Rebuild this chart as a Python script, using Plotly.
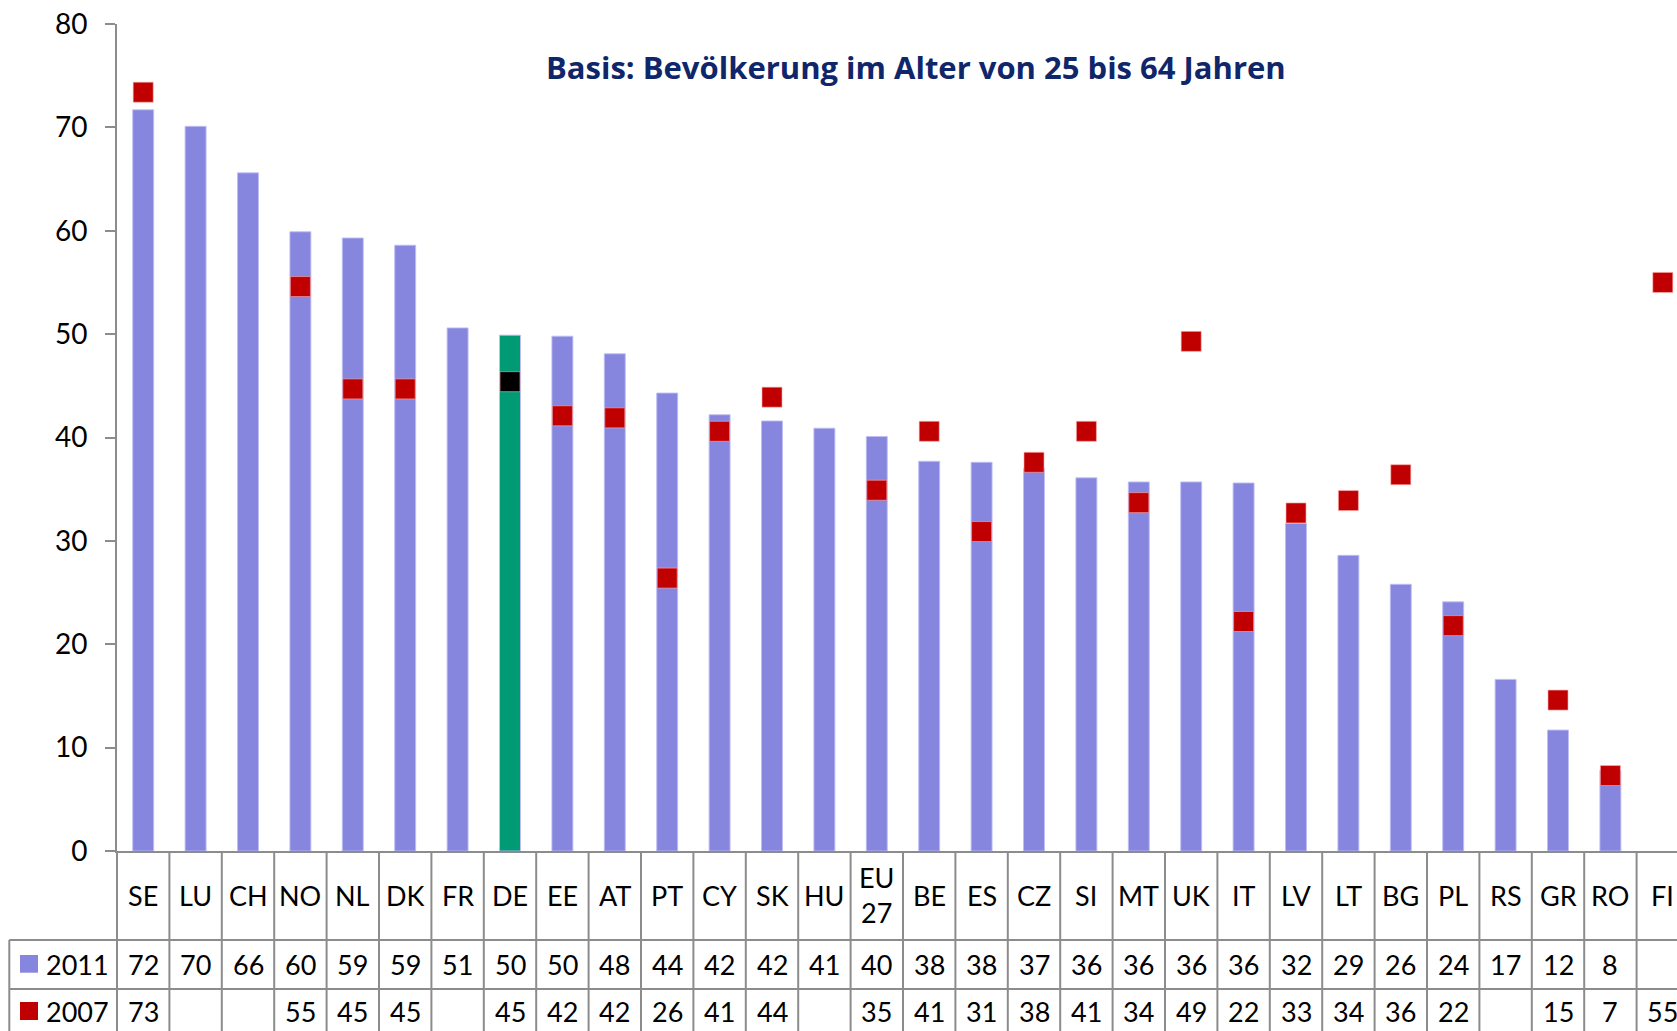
import plotly.graph_objects as go

# ---------------- data ----------------
categories = ["SE", "LU", "CH", "NO", "NL", "DK", "FR", "DE", "EE", "AT", "PT", "CY", "SK", "HU",
              "EU<br>27", "BE", "ES", "CZ", "SI", "MT", "UK", "IT", "LV", "LT", "BG", "PL", "RS",
              "GR", "RO", "FI"]
values_2011 = [71.7, 70.1, 65.6, 59.9, 59.3, 58.6, 50.6, 49.9, 49.8, 48.1, 44.3, 42.2, 41.6, 40.9,
               40.1, 37.7, 37.6, 37.0, 36.1, 35.7, 35.7, 35.6, 31.7, 28.6, 25.8, 24.1, 16.6,
               11.7, 7.8, None]
values_2007 = [73.4, None, None, 54.6, 44.7, 44.7, None, 45.4, 42.1, 41.9, 26.4, 40.6, 43.9, None,
               34.9, 40.6, 30.9, 37.6, 40.6, 33.7, 49.3, 22.2, 32.7, 33.9, 36.4, 21.8, None,
               14.6, 7.3, 55.0]
series_names = ["2011", "2007"]
highlight = "DE"
title_text = "Basis: Bevölkerung im Alter von 25 bis 64 Jahren"
y_ticks = [0, 10, 20, 30, 40, 50, 60, 70, 80]

# ---------------- styling ----------------
W, H = 1677, 1031
ML = 117
MT = 24
ZERO_Y = 851
MB = H - ZERO_Y
PLOT_W = W - ML
PLOT_H = ZERO_Y - MT
COL_W = 52.4
FONT = "Lato"
BLUE = "#8686DE"
GREEN = "#009A74"
RED = "#C00000"
GRID = "#8C8C8C"

n = len(categories)
xidx = list(range(n))
bar_colors = [GREEN if c == highlight else BLUE for c in categories]
mk_colors = [("#000000" if c == highlight else RED) for c in categories]


def px_x(px):
    return (px - ML) / PLOT_W


def px_y(py):
    return (ZERO_Y - py) / PLOT_H


fig = go.Figure()
fig.add_trace(go.Bar(
    x=xidx, y=values_2011, width=0.4, name=series_names[0],
    marker=dict(color=bar_colors, line=dict(color="rgba(190,190,245,0.9)", width=1)),
))
fig.add_trace(go.Scatter(
    x=xidx, y=values_2007, mode="markers", name=series_names[1],
    marker=dict(symbol="square", size=20, color=mk_colors,
                line=dict(color="rgba(255,170,170,0.6)", width=1)),
    cliponaxis=False,
))

shapes = []
annotations = []
line = dict(color=GRID, width=2)
bottom = -0.3

# vertical lines of the table
shapes.append(dict(type="line", xref="paper", yref="paper", x0=0, x1=0, y0=0, y1=bottom, line=line))
for i in range(n):
    shapes.append(dict(type="line", xref="x", yref="paper", x0=i + 0.5, x1=i + 0.5,
                       y0=0, y1=bottom, line=line))
left_x = px_x(9.3)
row1_top = px_y(940)
row2_top = px_y(989)
shapes.append(dict(type="line", xref="paper", yref="paper", x0=left_x, x1=left_x,
                   y0=row1_top, y1=bottom, line=line))
for yy in (row1_top, row2_top):
    shapes.append(dict(type="line", xref="paper", yref="paper", x0=left_x, x1=1.02,
                       y0=yy, y1=yy, line=line))

# legend keys
for (yt, yb, col) in ((955, 972.7, BLUE), (1002, 1020, RED)):
    shapes.append(dict(type="rect", xref="paper", yref="paper", x0=px_x(20), x1=px_x(38),
                       y0=px_y(yt), y1=px_y(yb), fillcolor=col, line=dict(width=0)))

cat_y = px_y(895)
r1_y = px_y(964)
r2_y = px_y(1011)
tfont = dict(family=FONT, size=27, color="#000000")
for i, c in enumerate(categories):
    annotations.append(dict(xref="x", yref="paper", x=i, y=cat_y, text=c, showarrow=False,
                            font=tfont, xanchor="center", yanchor="middle"))
    if values_2011[i] is not None:
        annotations.append(dict(xref="x", yref="paper", x=i, y=r1_y, text=f"{values_2011[i]:.0f}",
                                showarrow=False, font=tfont, xanchor="center", yanchor="middle"))
    if values_2007[i] is not None:
        annotations.append(dict(xref="x", yref="paper", x=i, y=r2_y, text=f"{values_2007[i]:.0f}",
                                showarrow=False, font=tfont, xanchor="center", yanchor="middle"))
for name, yy in zip(series_names, (r1_y, r2_y)):
    annotations.append(dict(xref="paper", yref="paper", x=px_x(44), y=yy, text=name,
                            showarrow=False, font=tfont, xanchor="left", yanchor="middle"))

annotations.append(dict(xref="paper", yref="paper", x=px_x(916), y=px_y(67), text=f"<b>{title_text}</b>",
                        showarrow=False, font=dict(family="Open Sans", size=31, color="#10266A"),
                        xanchor="center", yanchor="middle"))

fig.update_layout(
    width=W, height=H,
    margin=dict(l=ML, r=0, t=MT, b=MB, pad=0),
    paper_bgcolor="white", plot_bgcolor="white",
    showlegend=False,
    shapes=shapes, annotations=annotations,
    font=dict(family=FONT, size=27, color="#000000"),
    xaxis=dict(range=[-0.5, -0.5 + PLOT_W / COL_W], showticklabels=False, ticks="",
               showgrid=False, zeroline=False, showline=True, linecolor=GRID, linewidth=2,
               fixedrange=True),
    yaxis=dict(range=[0, 80], tickvals=y_ticks, ticks="outside", ticklen=10, tickwidth=2,
               tickcolor=GRID, showgrid=False, zeroline=False, showline=True, linecolor=GRID,
               linewidth=2, tickfont=dict(family=FONT, size=28, color="#000000"),
               ticklabelstandoff=12, ticklabeloverflow="allow", fixedrange=True),
    bargap=0.6,
)

fig.write_html("out.html",
               config={"displayModeBar": False},
               post_script="document.body.style.margin='0';"
                           "document.documentElement.style.overflow='hidden';"
                           "document.body.style.overflow='hidden';")
